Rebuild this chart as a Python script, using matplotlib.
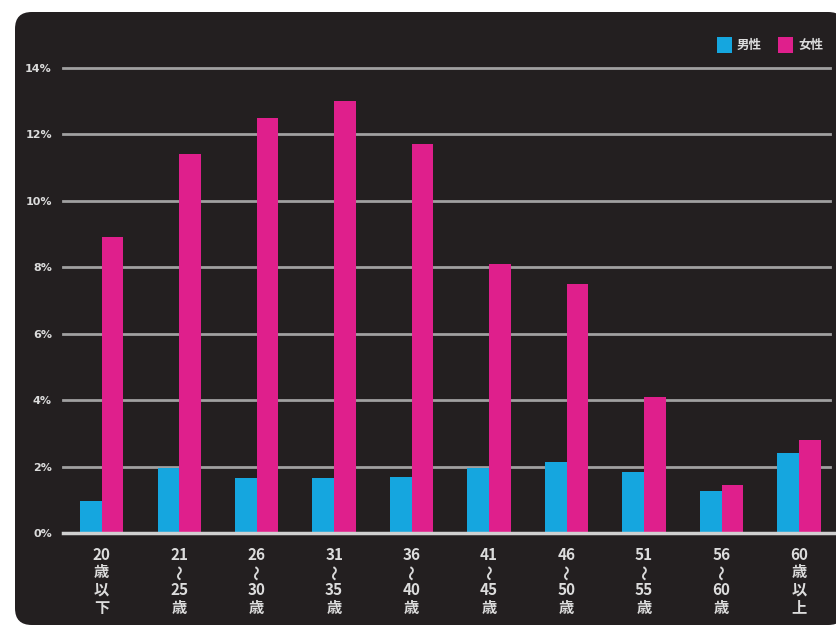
import matplotlib.pyplot as plt
import numpy as np
from matplotlib.patches import FancyBboxPatch, Rectangle

plt.rcParams['font.family'] = ['Noto Sans CJK JP', 'DejaVu Sans']

# each age label is written top to bottom, one entry per line
age_labels = [['20', '歳', '以', '下'], ['21', '〜', '25', '歳'], ['26', '〜', '30', '歳'],
              ['31', '〜', '35', '歳'], ['36', '〜', '40', '歳'], ['41', '〜', '45', '歳'],
              ['46', '〜', '50', '歳'], ['51', '〜', '55', '歳'], ['56', '〜', '60', '歳'],
              ['60', '歳', '以', '上']]
male = [0.95, 1.95, 1.65, 1.65, 1.7, 1.95, 2.15, 1.85, 1.25, 2.4]
female = [8.9, 11.4, 12.5, 13.0, 11.7, 8.1, 7.5, 4.1, 1.45, 2.8]
series_names = ['男性', '女性']
yticks = [0, 2, 4, 6, 8, 10, 12, 14]

bg = '#231f20'
blue = '#15a6df'
pink = '#df1f8c'
txt = '#dcdcdc'

W, H = 837, 630
fig = plt.figure(figsize=(W / 100, H / 100), dpi=100, facecolor='white')

panel = FancyBboxPatch((15 / W, 5 / H), 830 / W, 613 / H,
                       boxstyle='round,pad=0,rounding_size=0.02',
                       mutation_aspect=W / H, transform=fig.transFigure,
                       facecolor=bg, edgecolor='none', zorder=-10)
fig.add_artist(panel)

ax_h = 533 - 68
ax = fig.add_axes([63 / W, (H - 533) / H, (830 - 63) / W, ax_h / H])
ax.set_facecolor('none')

x = np.arange(len(age_labels))
w = 0.28
ax.bar(x - w / 2, male, w, color=blue, zorder=3)
ax.bar(x + w / 2, female, w, color=pink, zorder=3)

ax.set_xlim(-0.5, 9.4)
ax.set_ylim(0, 14)
for s in ax.spines.values():
    s.set_visible(False)

for v in yticks[1:]:
    ax.axhline(v, color='#a0a0a0', lw=2.0, zorder=1, clip_on=False)
ax.axhline(0, color='#d0d0d0', lw=2.5, zorder=4, clip_on=False, xmax=1.006)

ax.set_yticks(yticks)
ax.set_yticklabels([f'{v}%' for v in yticks], color=txt, fontsize=8,
                   fontweight='bold', family=['DejaVu Sans'])
ax.tick_params(axis='y', length=0, pad=8)
ax.set_xticks(x)
ax.set_xticklabels([''] * len(x))
ax.tick_params(axis='x', length=0)

# vertical (tategaki) labels under each group, 〜 turned upright
tr = ax.get_xaxis_transform()
for i, lines in enumerate(age_labels):
    for j, s in enumerate(lines):
        yc = -(22 + 17.5 * j) / ax_h
        ax.text(i, yc, s, transform=tr, ha='center', va='center',
                color=txt, fontsize=11, fontweight='bold',
                rotation=90 if s == '〜' else 0, clip_on=False)

# legend in the top right corner
lx = [717, 778]
for i, (name, col) in enumerate(zip(series_names, [blue, pink])):
    fig.add_artist(Rectangle((lx[i] / W, (H - 53) / H), 15 / W, 16 / H,
                             transform=fig.transFigure, facecolor=col,
                             edgecolor='none', zorder=2))
    fig.text((lx[i] + 20) / W, (H - 45) / H, name, color=txt, fontsize=9,
             fontweight='bold', va='center', ha='left')

fig.savefig('out.png', dpi=100, facecolor='white')
